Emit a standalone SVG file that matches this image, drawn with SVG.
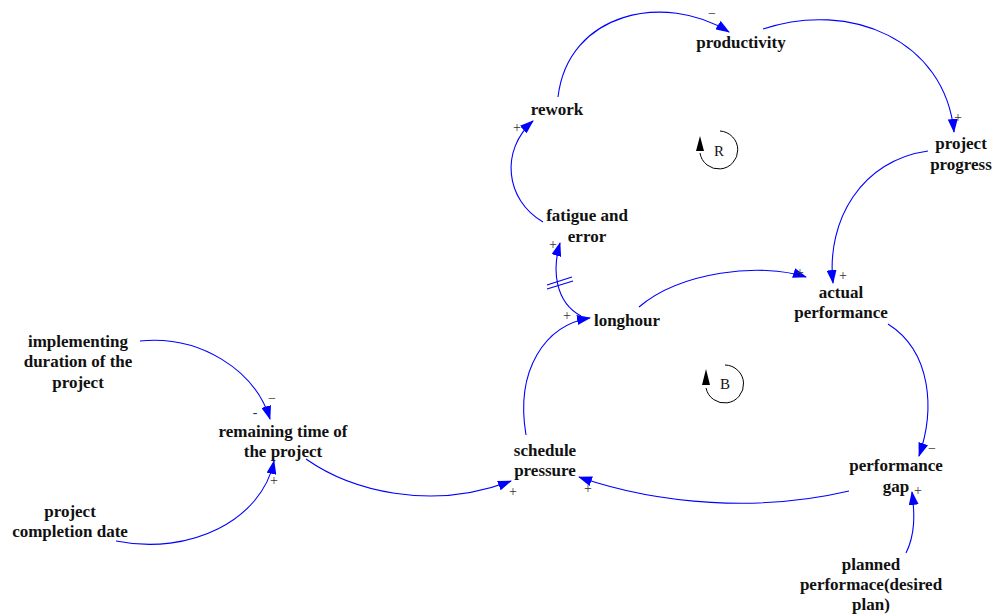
<svg xmlns="http://www.w3.org/2000/svg" width="995" height="616" viewBox="0 0 995 616">
  <defs>
    <marker id="arrow" viewBox="0 0 14 10" refX="13" refY="5" markerWidth="14" markerHeight="10" markerUnits="userSpaceOnUse" orient="auto">
      <path d="M0,0 L14,5 L0,10 z" fill="#0000ff"/>
    </marker>
  </defs>
  <style>
    .lbl { font-family: "Liberation Serif", "Times New Roman", serif; font-weight: bold; font-size: 17px; fill: #111; text-anchor: middle; }
    .sign { font-family: "Liberation Serif", "Times New Roman", serif; font-size: 14px; fill: #333; text-anchor: middle; }
    .loop { font-family: "Liberation Serif", "Times New Roman", serif; font-size: 15px; fill: #111; text-anchor: middle; }
    .link { fill: none; stroke: #0000ff; stroke-width: 1.1; marker-end: url(#arrow); }
    .delay { stroke: #0000ff; stroke-width: 1.1; }
    .loopArc { fill: none; stroke: #000; stroke-width: 1; }
  </style>
  <rect width="995" height="616" fill="#ffffff"/>

  <!-- causal links -->
  <g id="connectors">
    <path class="link" d="M558,97 C568,12 665,-8 729,32"/>
    <path class="link" d="M763,29 C850,0 945,40 954,132"/>
    <path class="link" d="M928,151 C862,160 826,220 833,283"/>
    <path class="link" d="M639,307 C680,272 760,262 806,277"/>
    <path class="link" d="M888,324 C932,352 935,410 919,456"/>
    <path class="link" d="M849,491 C760,512 660,505 579,477"/>
    <path class="link" d="M906,553 C915,535 915,515 912,492"/>
    <path class="link" d="M526,435 C515,370 545,325 590,318"/>
    <path class="link" d="M581,316 C555,302 552,270 560,243"/>
    <path class="link" d="M543,222 C505,200 500,150 533,121"/>
    <path class="link" d="M140,341 C200,335 255,370 270,419"/>
    <path class="link" d="M116,541 C190,556 262,520 274,461"/>
    <path class="link" d="M306,459 C350,490 430,512 511,481"/>
    <!-- delay mark on longhour -> fatigue and error -->
    <line class="delay" x1="547" y1="289" x2="573" y2="281"/>
    <line class="delay" x1="547" y1="285" x2="572" y2="277"/>
  </g>

  <!-- polarity signs -->
  <g id="polarities">
    <text class="sign" x="712" y="18">−</text>
    <text class="sign" x="958" y="122">+</text>
    <text class="sign" x="843" y="280">+</text>
    <text class="sign" x="800" y="277">+</text>
    <text class="sign" x="932" y="453">−</text>
    <text class="sign" x="588" y="493">+</text>
    <text class="sign" x="918" y="495">+</text>
    <text class="sign" x="567" y="320">+</text>
    <text class="sign" x="553" y="249">+</text>
    <text class="sign" x="517" y="132">+</text>
    <text class="sign" x="272" y="403">−</text>
    <text class="sign" x="255" y="417">-</text>
    <text class="sign" x="274" y="485">+</text>
    <text class="sign" x="513" y="496">+</text>
  </g>

  <!-- loop identifiers -->
  <g id="loop-R">
    <path class="loopArc" d="M720,131 A19,19 0 1 1 700,153"/>
    <polygon points="700,136 696,151 704,151" fill="#000"/>
    <text class="loop" x="719" y="156">R</text>
  </g>
  <g id="loop-B">
    <path class="loopArc" d="M725,365 A19,19 0 1 1 706,388"/>
    <polygon points="706,369 702,385 710,385" fill="#000"/>
    <text class="loop" x="725" y="389">B</text>
  </g>

  <!-- variables -->
  <g id="productivity"><text class="lbl" x="741" y="48">productivity</text></g>
  <g id="rework"><text class="lbl" x="557" y="115">rework</text></g>
  <g id="project-progress"><text class="lbl" x="961" y="149">project</text><text class="lbl" x="961" y="170">progress</text></g>
  <g id="actual-performance"><text class="lbl" x="841" y="298">actual</text><text class="lbl" x="841" y="318">performance</text></g>
  <g id="fatigue-and-error"><text class="lbl" x="587" y="221">fatigue and</text><text class="lbl" x="587" y="242">error</text></g>
  <g id="longhour"><text class="lbl" x="627" y="326">longhour</text></g>
  <g id="schedule-pressure"><text class="lbl" x="545" y="456">schedule</text><text class="lbl" x="545" y="476">pressure</text></g>
  <g id="performance-gap"><text class="lbl" x="896" y="471">performance</text><text class="lbl" x="896" y="492">gap</text></g>
  <g id="planned-performance"><text class="lbl" x="871" y="570">planned</text><text class="lbl" x="871" y="590">performace(desired</text><text class="lbl" x="871" y="610">plan)</text></g>
  <g id="remaining-time"><text class="lbl" x="283" y="437">remaining time of</text><text class="lbl" x="283" y="457">the project</text></g>
  <g id="implementing-duration"><text class="lbl" x="78" y="347">implementing</text><text class="lbl" x="78" y="367">duration of the</text><text class="lbl" x="78" y="388">project</text></g>
  <g id="completion-date"><text class="lbl" x="70" y="517">project</text><text class="lbl" x="70" y="537">completion date</text></g>
</svg>
